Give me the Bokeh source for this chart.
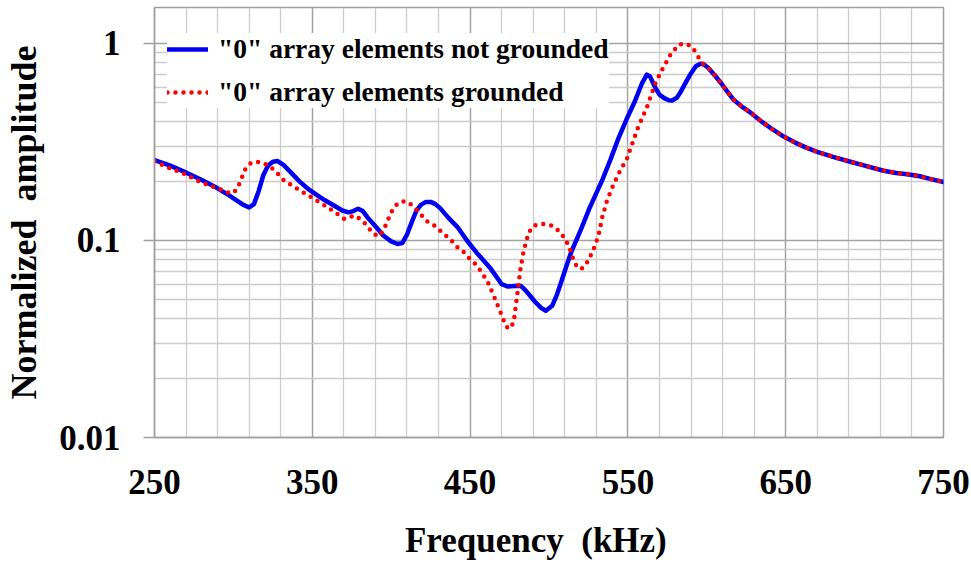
from bokeh.plotting import figure
from bokeh.models import Range1d, FixedTicker, NumeralTickFormatter, Legend, LegendItem
from bokeh.embed import file_html
from bokeh.resources import INLINE

# ---- data ----
freq_not_grounded = [250, 260, 269, 280, 290, 297, 302, 306, 310, 313, 316, 319, 322, 325, 328,
                     332, 337, 342, 348, 353, 358, 364, 369, 373, 376, 379, 382, 385, 390, 395,
                     400, 404, 407, 410, 413, 416, 419, 422, 425, 428, 431, 436, 442, 448, 454,
                     458, 463, 467, 470, 474, 478, 482, 485, 488, 491, 495, 498, 502, 505, 508,
                     511, 514, 520, 526, 530, 534, 539, 544, 549, 554, 559, 562, 564, 567.5, 570,
                     573, 576, 578, 581, 583, 586, 589, 593, 596, 598, 601, 605, 609, 613, 617,
                     622, 628, 635, 642, 649, 656, 663, 670, 680, 691, 700, 712, 720, 727, 735,
                     742, 750]
amp_not_grounded = [0.256, 0.240, 0.223, 0.203, 0.184, 0.170, 0.160, 0.152, 0.147, 0.153, 0.178, 0.215, 0.240, 0.251, 0.253,
                    0.241, 0.219, 0.199, 0.181, 0.170, 0.160, 0.150, 0.142, 0.139, 0.141, 0.145, 0.141, 0.131, 0.118, 0.106,
                    0.099, 0.096, 0.097, 0.107, 0.124, 0.142, 0.152, 0.157, 0.157, 0.153, 0.146, 0.131, 0.117, 0.100, 0.087,
                    0.080, 0.072, 0.065, 0.060, 0.0584, 0.0588, 0.059, 0.056, 0.0524, 0.049, 0.0455, 0.044, 0.0466, 0.053, 0.0625,
                    0.074, 0.087, 0.1125, 0.148, 0.174, 0.205, 0.258, 0.33, 0.41, 0.50, 0.63, 0.695, 0.68, 0.594, 0.55,
                    0.528, 0.515, 0.514, 0.530, 0.56, 0.62, 0.685, 0.766, 0.79, 0.785, 0.751, 0.69, 0.63, 0.57, 0.518,
                    0.48, 0.444, 0.40, 0.365, 0.336, 0.314, 0.296, 0.282, 0.266, 0.251, 0.24, 0.226, 0.220, 0.217, 0.212,
                    0.205, 0.198]

freq_grounded = [250, 260, 269, 279, 290, 296, 299, 301, 303.4, 305.5, 307.7, 310, 312, 315, 318.3,
                 323.5, 328, 332, 340, 351, 359.4, 365, 370, 373, 376.3, 379.5, 382.7, 386, 389, 392,
                 395, 397, 399.6, 402, 405, 408, 411, 415.4, 419, 422.8, 428.9, 433, 437.5, 440.7, 445,
                 449, 453.4, 456.6, 461, 465, 469.3, 472, 474, 476, 477.7, 479.8, 481.9, 484, 487.2, 490.4,
                 495.7, 502, 506.2, 509.4, 512.5, 515.7, 518, 520, 522, 524.2, 527.4, 529.5, 531.6, 533.7, 536.8,
                 540, 544.2, 549.5, 555.8, 562.2, 567.5, 571.7, 577, 582.2, 586.5, 589.5, 591.8, 595, 598, 601,
                 605, 609, 613, 617, 622, 628, 635, 642, 649, 656, 663, 670, 680, 691, 700,
                 712, 720, 727, 735, 742, 750]
amp_grounded = [0.252, 0.232, 0.218, 0.198, 0.184, 0.176, 0.173, 0.178, 0.191, 0.21, 0.232, 0.244, 0.249, 0.251, 0.249,
                0.237, 0.219, 0.202, 0.184, 0.163, 0.148, 0.138, 0.129, 0.130, 0.134, 0.130, 0.124, 0.115, 0.108, 0.105,
                0.112, 0.122, 0.137, 0.148, 0.156, 0.158, 0.156, 0.145, 0.135, 0.125, 0.117, 0.108, 0.102, 0.094, 0.089,
                0.082, 0.076, 0.0703, 0.062, 0.0524, 0.0431, 0.038, 0.0357, 0.0362, 0.039, 0.0524, 0.0717, 0.089, 0.110, 0.119,
                0.1216, 0.119, 0.112, 0.104, 0.094, 0.079, 0.073, 0.0717, 0.073, 0.0776, 0.0871, 0.096, 0.108, 0.131, 0.160,
                0.185, 0.219, 0.261, 0.364, 0.479, 0.63, 0.737, 0.879, 0.988, 1.0, 0.975, 0.932, 0.845, 0.785, 0.751,
                0.69, 0.63, 0.57, 0.518, 0.48, 0.444, 0.40, 0.365, 0.336, 0.314, 0.296, 0.282, 0.266, 0.251, 0.24,
                0.226, 0.220, 0.217, 0.212, 0.205, 0.198]

series_labels = ['"0" array elements not grounded', '"0" array elements grounded']
x_major_ticks = [250, 350, 450, 550, 650, 750]
x_minor_ticks = [270, 290, 310, 330, 370, 390, 410, 430, 470, 490, 510, 530,
                 570, 590, 610, 630, 670, 690, 710, 730]
y_major_ticks = [0.01, 0.1, 1]
y_minor_ticks = [0.02, 0.03, 0.04, 0.05, 0.06, 0.07, 0.08, 0.09,
                 0.2, 0.3, 0.4, 0.5, 0.6, 0.7, 0.8, 0.9]
# trailing no-break spaces shift the centred title slightly left, as in the reference
x_title = "Frequency\u00a0 (kHz)\u00a0\u00a0\u00a0"
y_title = "Normalized\u00a0 amplitude"

SERIF = "Liberation Serif"

p = figure(width=971, height=563, y_axis_type="log",
           x_range=Range1d(250, 750), y_range=Range1d(0.01, 1.523),
           output_backend="svg", toolbar_location=None,
           min_border_left=154, min_border_right=28, min_border_top=7, min_border_bottom=126)

p.background_fill_color = "white"
p.border_fill_color = "white"
p.outline_line_color = "#a0a0a0"
p.outline_line_width = 1.5

p.xaxis.ticker = FixedTicker(ticks=x_major_ticks, minor_ticks=x_minor_ticks)
p.yaxis.ticker = FixedTicker(ticks=y_major_ticks, minor_ticks=y_minor_ticks)
p.yaxis.formatter = NumeralTickFormatter(format="0.[00]")

for ax in (p.xaxis, p.yaxis):
    ax.axis_line_color = "#a0a0a0"
    ax.axis_line_width = 1.5
    ax.major_tick_line_color = "#a0a0a0"
    ax.major_tick_line_width = 1.5
    ax.minor_tick_in = 0
    ax.minor_tick_out = 0
    ax.major_tick_in = 0
    ax.major_label_text_font = SERIF
    ax.major_label_text_font_style = "bold"
    ax.major_label_text_font_size = "35px"
    ax.major_label_text_color = "black"
    ax.axis_label_text_font = SERIF
    ax.axis_label_text_font_style = "bold"
    ax.axis_label_text_color = "black"

p.xaxis.major_tick_out = 0
p.xaxis.major_label_standoff = 32
p.xaxis.axis_label = x_title
p.xaxis.axis_label_text_font_size = "35px"
p.xaxis.axis_label_standoff = 24

p.yaxis.major_tick_out = 11
p.yaxis.major_label_standoff = 23
p.yaxis.axis_label = y_title
p.yaxis.axis_label_text_font_size = "36px"
p.yaxis.axis_label_standoff = 12

for g in (p.xgrid, p.ygrid):
    g.grid_line_color = "#a3a3a3"
    g.grid_line_width = 1.5
    g.minor_grid_line_color = "#cccccc"
    g.minor_grid_line_width = 1.3

r_blue = p.line(freq_not_grounded, amp_not_grounded, line_color="#0000f0", line_width=4.5,
                line_join="round", line_cap="round")
r_red = p.line(freq_grounded, amp_grounded, line_color="#ff0000", line_width=4.5,
               line_dash="0 8", line_cap="round", line_join="round")

legend = Legend(items=[LegendItem(label=series_labels[0], renderers=[r_blue]),
                       LegendItem(label=series_labels[1], renderers=[r_red])],
                location=(13, 329), orientation="vertical",
                label_text_font=SERIF, label_text_font_style="bold",
                label_text_font_size="27.5px", label_text_color="black",
                glyph_width=41, glyph_height=20, label_height=20, label_standoff=10,
                spacing=11, padding=3, margin=0,
                border_line_color=None, background_fill_color="white", background_fill_alpha=1.0)
p.add_layout(legend)

open("out.html", "w").write(file_html(p, INLINE))
